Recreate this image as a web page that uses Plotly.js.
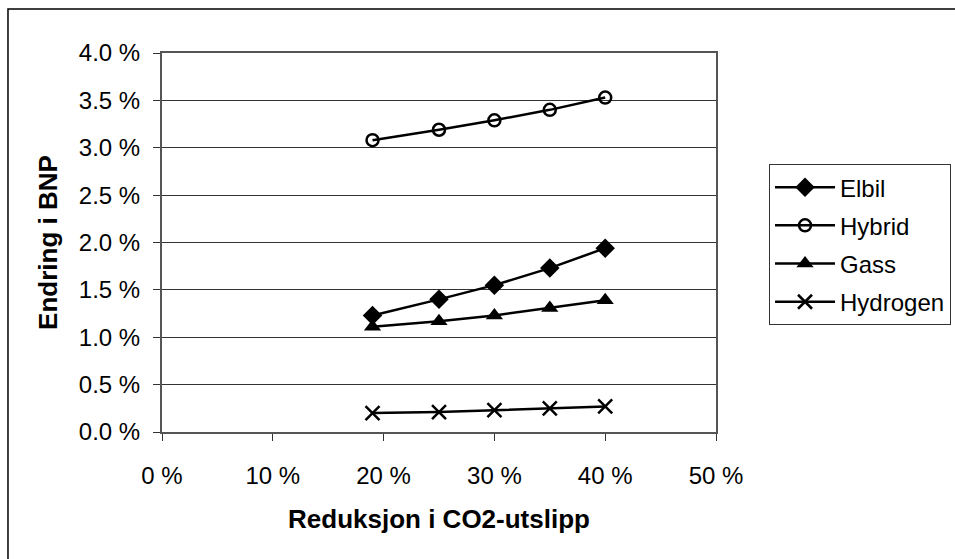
<!DOCTYPE html>
<html>
<head>
<meta charset="utf-8">
<script src="https://cdn.plot.ly/plotly-3.0.1.min.js"></script>
<style>html,body{margin:0;padding:0;background:#fff;}#chart{width:955px;height:559px;}</style>
</head>
<body>
<div id="chart"></div>
<script>
const reduction = [19, 25, 30, 35, 40];
const elbil = [1.23, 1.40, 1.55, 1.73, 1.94];
const hybrid = [3.08, 3.19, 3.29, 3.40, 3.53];
const gass = [1.11, 1.17, 1.23, 1.31, 1.39];
const hydrogen = [0.20, 0.21, 0.23, 0.25, 0.27];
const seriesNames = ['Elbil', 'Hybrid', 'Gass', 'Hydrogen'];
const yTickVals = [0, 0.5, 1, 1.5, 2, 2.5, 3, 3.5, 4];
const yTickText = ['0.0 %', '0.5 %', '1.0 %', '1.5 %', '2.0 %', '2.5 %', '3.0 %', '3.5 %', '4.0 %'];
const xTickVals = [0, 10, 20, 30, 40, 50];
const xTickText = ['0 %', '10 %', '20 %', '30 %', '40 %', '50 %'];

const line = {color: '#000', width: 2.5};
const traces = [
  {x: reduction, y: elbil, name: seriesNames[0], mode: 'lines+markers', line: line, legendgroup: 'a',
   marker: {symbol: 'diamond', size: 15, color: '#000'}},
  {x: reduction, y: hybrid, name: seriesNames[1], mode: 'lines+markers', line: line, legendgroup: 'b',
   marker: {symbol: 'circle-open', size: 12, color: '#000', line: {width: 2.5, color: '#000'}}},
  {x: reduction, y: gass, name: seriesNames[2], mode: 'lines+markers', line: line, legendgroup: 'c',
   marker: {symbol: 'triangle-up', size: 15, color: '#000'}},
  {x: reduction, y: hydrogen, name: seriesNames[3], mode: 'lines+markers', line: line, legendgroup: 'd',
   marker: {symbol: 'x-thin-open', size: 14, color: '#000', line: {width: 2.5, color: '#000'}}}
];

const fam = 'Liberation Sans, Arial, sans-serif';
const font = {family: fam, size: 24, color: '#000'};
const titleFont = {family: fam, size: 26, color: '#000', weight: 'bold'};
const layout = {
  width: 955, height: 559,
  margin: {l: 162, r: 239, t: 53, b: 127, autoexpand: false},
  paper_bgcolor: '#fff', plot_bgcolor: '#fff',
  font: font,
  showlegend: true,
  legend: {x: 1.0957, xanchor: 'left', y: 0.707, yanchor: 'top', bgcolor: '#fff',
           bordercolor: '#333', borderwidth: 1, font: font, traceorder: 'grouped', tracegroupgap: 4,
           itemwidth: 60},
  xaxis: {range: [0, 50], tickvals: xTickVals, ticktext: xTickText, ticks: 'outside', ticklen: 7,
          tickcolor: '#333', showgrid: false, zeroline: false, showline: true, linecolor: '#555', linewidth: 2,
          mirror: true, tickfont: font, ticklabelstandoff: 14,
          title: {text: 'Reduksjon i CO2-utslipp', font: titleFont, standoff: 22}},
  yaxis: {range: [0, 4], tickvals: yTickVals, ticktext: yTickText, ticks: 'outside', ticklen: 7,
          tickcolor: '#333', showgrid: true, gridcolor: '#333', gridwidth: 1, zeroline: false,
          showline: true, linecolor: '#555', linewidth: 2, mirror: true, tickfont: font, ticklabelstandoff: 8,
          title: {text: 'Endring i BNP', font: titleFont, standoff: 14}},
  shapes: [
    {type: 'rect', xref: 'paper', yref: 'paper', x0: -0.278, x1: 1.6, y0: -0.6, y1: 1.116,
     line: {color: '#000', width: 1.5}, fillcolor: 'rgba(0,0,0,0)', layer: 'below'}
  ]
};
Plotly.newPlot('chart', traces, layout, {displayModeBar: false, staticPlot: true});
</script>
</body>
</html>
